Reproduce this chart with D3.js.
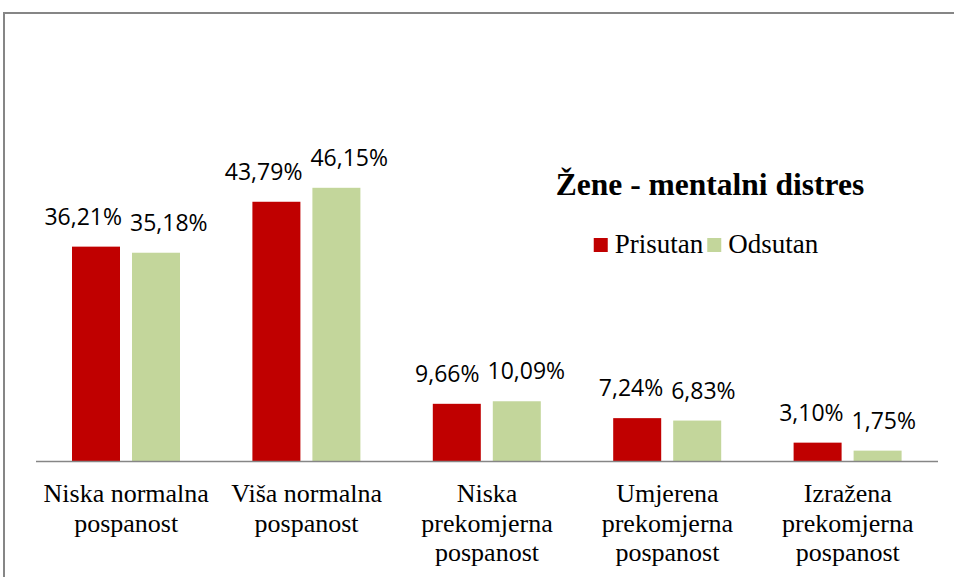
<!DOCTYPE html>
<html lang="hr">
<head>
<meta charset="utf-8">
<title>Žene - mentalni distres</title>
<script src="https://d3js.org/d3.v7.min.js"></script>
<style>
  body{margin:0;background:#fff;}
  svg{display:block;}
</style>
</head>
<body>
<div id="chart"></div>
<script>
// categories and series
var categories = ["Niska normalna pospanost", "Viša normalna pospanost", "Niska prekomjerna pospanost",
                  "Umjerena prekomjerna pospanost", "Izražena prekomjerna pospanost"]
var seriesNames = ["Prisutan", "Odsutan"]
var prisutan = [36.21, 43.79, 9.66, 7.24, 3.10]
var odsutan = [35.18, 46.15, 10.09, 6.83, 1.75]
var title = "Žene - mentalni distres"

var w = 954, h = 577
var colors = ["#C00000", "#C3D69B"]
var serif = "'Liberation Serif','Times New Roman',serif"
var sans = "'Open Sans','Noto Sans',sans-serif"

var svg = d3.select("#chart").append("svg").attr("width", w).attr("height", h)

// outer chart frame (runs off the right and bottom edge)
svg.append("rect").attr("x", 4).attr("y", 13).attr("width", 970).attr("height", 600)
   .attr("fill", "#fff").attr("stroke", "#868686").attr("stroke-width", 2)

var x0 = d3.scaleBand().domain(d3.range(categories.length)).range([36, 938])
var x1 = d3.scaleBand().domain(d3.range(seriesNames.length)).range([36, 144]).paddingInner(0.2)
var y = d3.scaleLinear().domain([0, 50]).range([461, 165])

var rows = categories.map(function(c, i){ return [prisutan[i], odsutan[i]] })

var groups = svg.selectAll("g.grp").data(rows).enter().append("g")
    .attr("class", "grp")
    .attr("transform", function(d, i){ return "translate(" + x0(i) + ",0)" })

groups.selectAll("rect").data(function(d){ return d }).enter().append("rect")
    .attr("x", function(d, j){ return x1(j) })
    .attr("y", function(d){ return y(d) })
    .attr("width", x1.bandwidth())
    .attr("height", function(d){ return y(0) - y(d) })
    .attr("fill", function(d, j){ return colors[j] })

// data labels, pushed apart when they would collide
groups.each(function(d){
    var g = d3.select(this)
    var labels = g.selectAll("text.val").data(d).enter().append("text")
        .attr("class", "val")
        .attr("x", function(v, j){ return x1(j) + x1.bandwidth() / 2 })
        .attr("y", function(v){ return y(v) - 22 })
        .attr("text-anchor", "middle")
        .attr("font-family", sans).attr("font-size", 23).attr("fill", "#000")
        .text(function(v){ return v.toFixed(2).replace(".", ",") + "%" })
    var n = labels.nodes()
    var wr = n[0].getComputedTextLength(), wg = n[1].getComputedTextLength()
    var cr = x1(0) + x1.bandwidth() / 2, cg = x1(1) + x1.bandwidth() / 2
    var need = (wr + wg) / 2 + 8
    if (cg - cr < need) {
        var s = (need - (cg - cr)) / 2
        d3.select(n[0]).attr("x", cr - s)
        d3.select(n[1]).attr("x", cg + s)
    }
})

// category axis line
svg.append("line").attr("x1", 36).attr("x2", 938).attr("y1", y(0) + 0.5).attr("y2", y(0) + 0.5)
   .attr("stroke", "#868686").attr("stroke-width", 1.5)

// wrapped category labels
var catText = svg.selectAll("text.cat").data(categories).enter().append("text")
    .attr("class", "cat")
    .attr("x", function(d, i){ return x0(i) + x0.bandwidth() / 2 })
    .attr("y", 502)
    .attr("text-anchor", "middle")
    .attr("font-family", serif).attr("font-size", 26).attr("fill", "#000")

catText.each(function(d, i){
    var t = d3.select(this)
    var words = d.split(" "), line = []
    var cx = x0(i) + x0.bandwidth() / 2
    var ts = t.append("tspan").attr("x", cx).attr("dy", 0)
    words.forEach(function(word){
        line.push(word)
        ts.text(line.join(" "))
        if (ts.node().getComputedTextLength() > x0.bandwidth() - 4 && line.length > 1) {
            line.pop()
            ts.text(line.join(" "))
            line = [word]
            ts = t.append("tspan").attr("x", cx).attr("dy", 29.5).text(word)
        }
    })
})

// title
svg.append("text").attr("x", 710).attr("y", 195).attr("text-anchor", "middle")
   .attr("font-family", serif).attr("font-size", 31.5).attr("font-weight", "bold")
   .text(title)

// legend
var legend = svg.append("g")
var lx = 0
seriesNames.forEach(function(name, j){
    var item = legend.append("g").attr("transform", "translate(" + lx + ",0)")
    item.append("rect").attr("x", 0).attr("y", 238).attr("width", 14).attr("height", 14).attr("fill", colors[j])
    var t = item.append("text").attr("x", 21).attr("y", 253)
        .attr("font-family", serif).attr("font-size", 27).text(name)
    lx += 21 + t.node().getComputedTextLength() + 4
})
var lw = lx - 4
legend.attr("transform", "translate(" + (706 - lw / 2) + ",0)")
</script>
</body>
</html>
